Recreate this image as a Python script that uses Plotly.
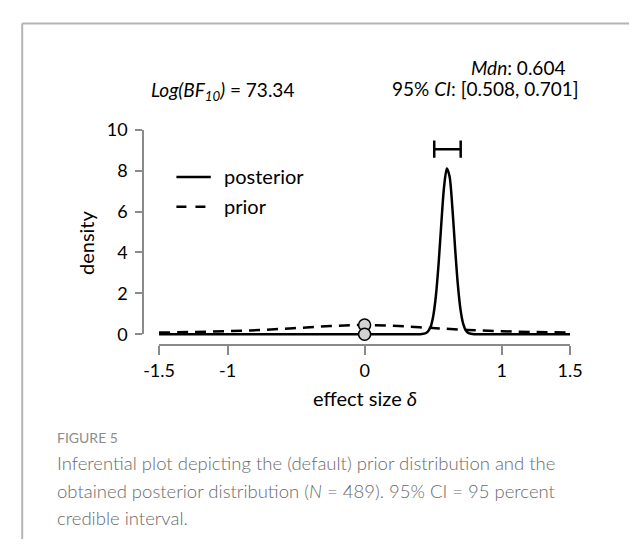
import plotly.graph_objects as go

# ---------------- data ----------------
prior_x = [-1.5, -1.25, -1.0, -0.75, -0.5, -0.25, 0.0, 0.25, 0.5, 0.75, 1.0, 1.25, 1.5]
prior_y = [0.082, 0.109, 0.150, 0.212, 0.300, 0.401, 0.450, 0.401, 0.300, 0.212, 0.150, 0.109, 0.082]

post_x = [-1.5, -1.0, -0.5, 0.0, 0.30, 0.40, 0.45, 0.48, 0.50, 0.52, 0.54, 0.56, 0.58,
          0.60, 0.62, 0.64, 0.66, 0.68, 0.70, 0.72, 0.74, 0.76, 0.80, 0.90, 1.0, 1.5]
post_y = [0.0, 0.0, 0.0, 0.0, 0.0, 0.0, 0.06, 0.33, 0.86, 1.87, 3.46, 5.44, 7.22,
          8.11, 7.72, 6.22, 4.24, 2.45, 1.19, 0.49, 0.17, 0.05, 0.0, 0.0, 0.0, 0.0]

point_x = [0.0, 0.0]
point_y = [0.450, 0.0]          # prior and posterior density at delta = 0

ci_x = [0.508, 0.701]           # 95% credible interval
ci_level = [9.05, 9.05]
median = 0.604
log_bf10 = 73.34
n_obs = 489

x_ticks = [-1.5, -1, 0, 1, 1.5]
x_ticktext = ["-1.5", "-1", "0", "1", "1.5"]
y_ticks = [0, 2, 4, 6, 8, 10]
legend_names = ["posterior", "prior"]

# ---------------- layout helpers (window pixels -> paper) ----------------
W, H = 642, 549
def px(x):
    return x / W
def py(y):
    return 1 - y / H

FONT = "Lato"
GREY = "#8a8a8a"
DASH = "11px,7px"

fig = go.Figure()

fig.add_trace(go.Scatter(
    x=prior_x, y=prior_y, mode="lines", name="prior", showlegend=False,
    line=dict(color="black", width=2.5, dash=DASH, shape="spline"),
    hoverinfo="skip"))

fig.add_trace(go.Scatter(
    x=post_x, y=post_y, mode="lines", name="posterior", showlegend=False,
    line=dict(color="black", width=2.5, shape="spline", smoothing=0.8),
    hoverinfo="skip"))

fig.add_trace(go.Scatter(
    x=point_x, y=point_y, mode="markers", showlegend=False,
    marker=dict(size=12, color="#d3d3d3", line=dict(color="black", width=1.5)),
    cliponaxis=False, hoverinfo="skip"))

fig.add_trace(go.Scatter(
    x=ci_x, y=ci_level, mode="lines", showlegend=False,
    line=dict(color="black", width=2.5),
    error_y=dict(type="constant", value=0.42, width=0, thickness=2.5, color="black"),
    hoverinfo="skip"))

# empty trace carrying the display (range-frame) y axis
fig.add_trace(go.Scatter(x=[], y=[], xaxis="x", yaxis="y2", showlegend=False))

x_dom = [px(149.8), px(580.4)]
fig.update_layout(
    width=W, height=H,
    margin=dict(l=0, r=0, t=0, b=0),
    paper_bgcolor="white", plot_bgcolor="rgba(0,0,0,0)",
    font=dict(family=FONT, color="black", size=18),
    showlegend=False,
    xaxis=dict(domain=x_dom, range=[-1.5, 1.5], anchor="y",
               tickvals=x_ticks, ticktext=x_ticktext,
               showline=True, linecolor=GREY, linewidth=1.5,
               ticks="outside", ticklen=9, tickwidth=1.5, tickcolor=GREY,
               showgrid=False, zeroline=False,
               tickfont=dict(size=18, family=FONT, color="black")),
    yaxis=dict(domain=[py(346.35), py(112.05)], range=[-0.5, 10.5],
               visible=False, showgrid=False, zeroline=False),
    yaxis2=dict(domain=[py(335.7), py(122.7)], range=[0, 10], anchor="free",
                position=px(133), tickvals=y_ticks,
                showline=True, linecolor=GREY, linewidth=1.5,
                ticks="outside", ticklen=7, tickwidth=1.5, tickcolor=GREY,
                showgrid=False, zeroline=False, ticklabelstandoff=4,
                tickfont=dict(size=18, family=FONT, color="black")),
)

ann = []
ann.append(dict(x=px(216), y=py(82), xref="paper", yref="paper",
                text=f"<i>Log(BF<sub>10</sub>)</i> = {log_bf10:.2f}",
                showarrow=False, xanchor="center", yanchor="middle",
                font=dict(size=19, family=FONT)))
ann.append(dict(x=px(526), y=py(58), xref="paper", yref="paper",
                text=f"<i>Mdn</i>: {median:.3f}",
                showarrow=False, xanchor="center", yanchor="middle",
                font=dict(size=19, family=FONT)))
ann.append(dict(x=px(492), y=py(80), xref="paper", yref="paper",
                text=f"95% <i>CI</i>: [{ci_x[0]:.3f}, {ci_x[1]:.3f}]",
                showarrow=False, xanchor="center", yanchor="middle",
                font=dict(size=19, family=FONT)))
ann.append(dict(x=px(74), y=py(240), xref="paper", yref="paper",
                text="density", textangle=-90,
                showarrow=False, xanchor="center", yanchor="middle",
                font=dict(size=20, family=FONT)))
ann.append(dict(x=px(365), y=py(402), xref="paper", yref="paper",
                text="effect size <i>δ</i>",
                showarrow=False, xanchor="center", yanchor="middle",
                font=dict(size=20, family=FONT)))

# legend (drawn by hand to match the reference spacing)
for name, ly, dash in [(legend_names[0], 171, "solid"), (legend_names[1], 202, "10px,9px")]:
    fig.add_shape(type="line", xref="paper", yref="paper",
                  x0=px(168), x1=px(204), y0=py(ly + 1), y1=py(ly + 1),
                  line=dict(color="black", width=2.5, dash=dash))
    ann.append(dict(x=px(216), y=py(ly), xref="paper", yref="paper",
                    text=name, showarrow=False, xanchor="left", yanchor="middle",
                    font=dict(size=20, family=FONT)))

CAP = "#6a6a6a"
ann.append(dict(x=px(41), y=py(443), xref="paper", yref="paper",
                text="FIGURE 5", showarrow=False, xanchor="left", yanchor="middle",
                font=dict(size=14, family=FONT, color="#8c8c8c")))
cap_lines = [
    "Inferential plot depicting the (default) prior distribution and the",
    f"obtained posterior distribution (<i>N</i> = {n_obs}). 95% CI = 95 percent",
    "credible interval.",
]
for i, t in enumerate(cap_lines):
    ann.append(dict(x=px(41), y=py(470 + 28.5 * i), xref="paper", yref="paper",
                    text=t, showarrow=False, xanchor="left", yanchor="middle",
                    font=dict(size=18.5, family=FONT, color=CAP, weight=300)))
fig.update_layout(annotations=ann)

# page frame (top and left rule)
fig.add_shape(type="line", xref="paper", yref="paper",
              x0=px(6.5), x1=1.0, y0=py(12), y1=py(12),
              line=dict(color="#b4b4b4", width=2))
fig.add_shape(type="line", xref="paper", yref="paper",
              x0=px(6.5), x1=px(6.5), y0=py(12), y1=0.0,
              line=dict(color="#b4b4b4", width=2))

fig.write_html("out.html", config={"displayModeBar": False},
               post_script="document.body.style.margin='0';")
